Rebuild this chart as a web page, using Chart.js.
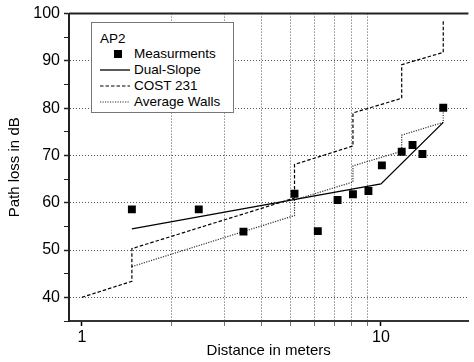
<!DOCTYPE html>
<html>
<head>
<meta charset="utf-8">
<script src="https://cdn.jsdelivr.net/npm/chart.js@4"></script>
<style>
  html, body { margin: 0; padding: 0; background: #fff; overflow: hidden; }
  #wrap { position: relative; width: 474px; height: 362px; }
  #legend {
    position: absolute; left: 91px; top: 22px; width: 141px; height: 89px;
    border: 1.5px solid #777; background: #fff;
    font-family: "Liberation Sans", Arial, sans-serif; font-size: 13.5px; color: #000;
  }
  #legend .title { position: absolute; left: 8px; top: 8px; }
  #legend .row { position: absolute; left: 8px; height: 16px; width: 135px; }
  #legend .row span { position: absolute; left: 34px; top: 0; line-height: 16px; }
  #legend svg { position: absolute; left: 0; top: 0; }
</style>
</head>
<body>
<div id="wrap">
  <canvas id="chart" width="474" height="362"></canvas>
  <div id="legend">
    <div class="title">AP2</div>
    <div class="row" style="top:23px"><svg width="32" height="16"><rect x="14" y="4" width="8" height="8" fill="#000"/></svg><span>Measurments</span></div>
    <div class="row" style="top:39px"><svg width="32" height="16"><line x1="0" y1="8" x2="30" y2="8" stroke="#000" stroke-width="1.3"/></svg><span>Dual-Slope</span></div>
    <div class="row" style="top:55px"><svg width="32" height="16"><line x1="0" y1="8" x2="30" y2="8" stroke="#000" stroke-width="1.2" stroke-dasharray="3.5 2"/></svg><span>COST 231</span></div>
    <div class="row" style="top:71px"><svg width="32" height="16"><line x1="0" y1="8" x2="30" y2="8" stroke="#333" stroke-width="1.2" stroke-dasharray="1.2 1.3"/></svg><span>Average Walls</span></div>
  </div>
</div>
<script>
// measured path loss (AP2)
const measDist = [1.47, 2.46, 3.47, 5.14, 6.15, 7.16, 8.06, 9.08, 10.07, 11.73, 12.75, 13.76, 16.15];
const measLoss = [58.6, 58.6, 53.9, 61.9, 54.0, 60.6, 61.8, 62.5, 67.9, 70.8, 72.2, 70.3, 80.1];

// dual-slope model
const dualDist = [1.47, 10.0, 16.15];
const dualLoss = [54.5, 64.0, 77.0];

// COST 231 multi-wall model (steps at each wall)
const costDist = [1.0, 1.47, 1.47, 5.14, 5.14, 8.06, 8.06, 11.73, 11.73, 16.15, 16.15];
const costLoss = [40.0, 43.4, 50.3, 61.0, 68.1, 72.0, 79.0, 82.1, 89.2, 91.8, 98.7];

// average walls model
const avgDist = [1.47, 5.14, 5.14, 8.06, 8.06, 11.73, 11.73, 16.15, 16.15];
const avgLoss = [46.5, 57.3, 60.6, 64.4, 67.8, 70.9, 74.3, 77.0, 79.9];

const xTicks = [1, 2, 3, 4, 5, 6, 7, 8, 9, 10];
const xLabels = [1, 10];

const pts = (xs, ys) => xs.map((x, i) => ({ x: x, y: ys[i] }));

const topBorder = {
  id: "topBorder",
  beforeDatasetsDraw(chart) {
    const { ctx, chartArea } = chart;
    ctx.save();
    ctx.strokeStyle = "#222";
    ctx.lineWidth = 2;
    ctx.beginPath();
    ctx.moveTo(chartArea.left, chartArea.top);
    ctx.lineTo(chartArea.right, chartArea.top);
    ctx.stroke();
    ctx.restore();
  }
};

const font = { family: "'Liberation Sans', Arial, sans-serif" };

new Chart(document.getElementById("chart"), {
  type: "scatter",
  data: {
    datasets: [
      {
        label: "Measurments",
        data: pts(measDist, measLoss),
        pointStyle: "rect",
        pointRadius: 5.6,
        backgroundColor: "#000",
        borderColor: "#000",
        borderWidth: 0,
        showLine: false
      },
      {
        label: "Dual-Slope",
        data: pts(dualDist, dualLoss),
        showLine: true,
        borderColor: "#000",
        borderWidth: 1.3,
        pointRadius: 0
      },
      {
        label: "COST 231",
        data: pts(costDist, costLoss),
        showLine: true,
        borderColor: "#000",
        borderWidth: 1.2,
        borderDash: [3.5, 2],
        pointRadius: 0
      },
      {
        label: "Average Walls",
        data: pts(avgDist, avgLoss),
        showLine: true,
        borderColor: "#333",
        borderWidth: 1.2,
        borderDash: [1.2, 1.3],
        pointRadius: 0
      }
    ]
  },
  options: {
    responsive: false,
    animation: false,
    layout: { padding: { top: 13, right: 0, left: 0, bottom: 0 } },
    plugins: { legend: { display: false }, tooltip: { enabled: false } },
    scales: {
      x: {
        type: "logarithmic",
        min: 0.906,
        max: 19.6,
        afterBuildTicks: s => { s.ticks = xTicks.map(v => ({ value: v, major: xLabels.includes(v) })); },
        afterFit: s => { s.height = 41; },
        ticks: {
          autoSkip: false,
          maxRotation: 0,
          padding: 2,
          color: "#000",
          font: { ...font, size: 16 },
          callback: v => xLabels.includes(v) ? String(v) : ""
        },
        grid: {
          color: c => (c.tick && xLabels.includes(c.tick.value)) ? "rgba(0,0,0,0)" : "#555",
          lineWidth: 1,
          tickLength: 5,
          tickColor: c => (c.tick && xLabels.includes(c.tick.value)) ? "#000" : "#777",
          tickWidth: c => (c.tick && xLabels.includes(c.tick.value)) ? 1.5 : 1
        },
        border: { display: true, color: "#333", width: 2, dash: [1, 2] },
        title: {
          display: true,
          text: "Distance in meters",
          color: "#000",
          font: { ...font, size: 15 },
          padding: { top: 0, bottom: 2 }
        }
      },
      y: {
        min: 35,
        max: 100,
        afterFit: s => { s.width = 69; },
        ticks: {
          stepSize: 5,
          autoSkip: false,
          padding: 4,
          color: "#000",
          font: { ...font, size: 16 },
          callback: v => v % 10 === 0 ? String(v) : ""
        },
        grid: {
          color: c => (c.tick && c.tick.value % 10 === 0 && c.tick.value > 35 && c.tick.value < 100) ? "#555" : "rgba(0,0,0,0)",
          lineWidth: 1,
          tickLength: 5,
          tickColor: "#222",
          tickWidth: c => (c.tick && c.tick.value % 10 === 0) ? 1.5 : 1
        },
        border: { display: true, color: "#222", width: 2, dash: [1, 2] },
        title: {
          display: true,
          text: "Path loss in dB",
          color: "#000",
          font: { ...font, size: 15 },
          padding: { top: 6, bottom: 0 }
        }
      }
    }
  },
  plugins: [topBorder]
});
</script>
</body>
</html>
